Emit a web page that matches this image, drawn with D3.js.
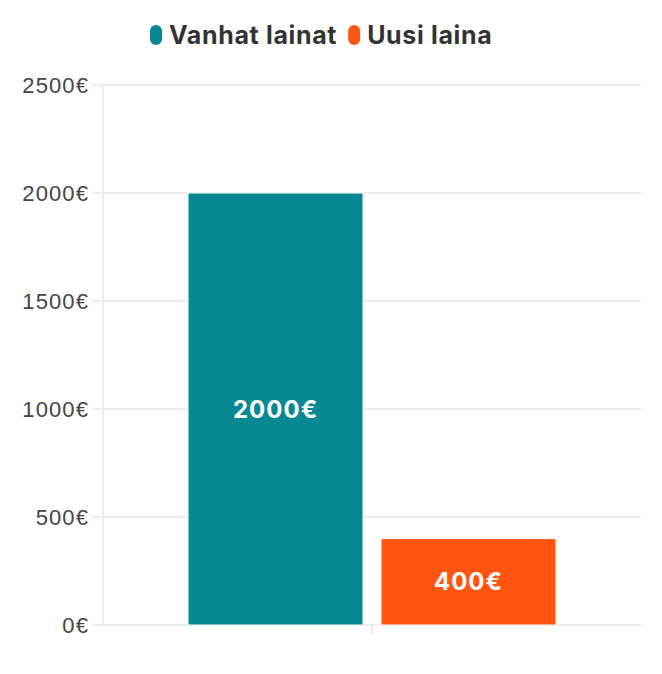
<!DOCTYPE html>
<html lang="fi">
<head>
    <meta charset="UTF-8">
    <title>Vanhat lainat vs Uusi laina</title>
    <script src="https://d3js.org/d3.v7.min.js"></script>
    <style>
        body { margin: 0; background: #fff; }
        svg { font-family: Inter, "Libre Franklin", sans-serif; }
        .tick text { fill: #444; font-size: 22px; letter-spacing: 1.1px; }
        .grid line { stroke: #ececec; stroke-width: 2; }
        .legend text { fill: #333; font-size: 25px; font-weight: 700; letter-spacing: 0.65px; }
        .bar-label { fill: #fff; font-size: 24px; font-weight: 700; letter-spacing: 1px; }
    </style>
</head>
<body>
<div id="chart"></div>
<script>
    // data
    const categories = [''];
    const seriesNames = ['Vanhat lainat', 'Uusi laina'];
    const seriesValues = [2000, 400];
    const seriesColors = ['#078893', '#FE5611'];
    const yTicks = [0, 500, 1000, 1500, 2000, 2500];

    const width = 662, height = 674;
    const margin = { top: 85, right: 21, bottom: 49, left: 103 };

    const svg = d3.select('#chart').append('svg')
        .attr('width', width)
        .attr('height', height);

    const x0 = d3.scaleBand()
        .domain(categories)
        .range([margin.left, width - margin.right])
        .paddingOuter(0.231);

    const x1 = d3.scaleBand()
        .domain(seriesNames)
        .range([0, x0.bandwidth()])
        .paddingInner(0.093);

    const y = d3.scaleLinear()
        .domain([0, 2500])
        .range([height - margin.bottom, margin.top]);

    // gridlines
    svg.append('g')
        .attr('class', 'grid')
        .selectAll('line')
        .data(yTicks)
        .join('line')
        .attr('x1', margin.left - 10)
        .attr('x2', width - margin.right)
        .attr('y1', d => y(d))
        .attr('y2', d => y(d));

    // left axis line
    svg.append('line')
        .attr('x1', margin.left).attr('x2', margin.left)
        .attr('y1', margin.top).attr('y2', height - margin.bottom)
        .attr('stroke', '#ececec').attr('stroke-width', 2);

    // bottom tick
    svg.append('line')
        .attr('x1', x0('') + x0.bandwidth() / 2)
        .attr('x2', x0('') + x0.bandwidth() / 2)
        .attr('y1', height - margin.bottom)
        .attr('y2', height - margin.bottom + 10)
        .attr('stroke', '#ececec').attr('stroke-width', 2);

    // y axis labels
    const yAxis = d3.axisLeft(y)
        .tickValues(yTicks)
        .tickFormat(d => d + '€')
        .tickSize(0)
        .tickPadding(14);

    svg.append('g')
        .attr('transform', `translate(${margin.left},0)`)
        .call(yAxis)
        .call(g => g.select('.domain').remove())
        .selectAll('text')
        .attr('dy', '0.35em');

    // bars
    const barData = seriesNames.map((name, i) => ({ name, value: seriesValues[i], color: seriesColors[i] }));

    const groups = svg.append('g')
        .attr('transform', `translate(${x0('')},0)`);

    groups.selectAll('rect')
        .data(barData)
        .join('rect')
        .attr('x', d => x1(d.name))
        .attr('width', x1.bandwidth())
        .attr('y', d => y(d.value))
        .attr('height', d => y(0) - y(d.value))
        .attr('fill', d => d.color)
        .attr('stroke', '#fff')
        .attr('stroke-width', 1);

    groups.selectAll('.bar-label')
        .data(barData)
        .join('text')
        .attr('class', 'bar-label')
        .attr('x', d => x1(d.name) + x1.bandwidth() / 2)
        .attr('y', d => (y(d.value) + y(0)) / 2)
        .attr('text-anchor', 'middle')
        .attr('dy', '0.36em')
        .text(d => d.value + '€');

    // legend
    const legend = svg.append('g').attr('class', 'legend');
    let lx = 150;
    barData.forEach(d => {
        legend.append('rect')
            .attr('x', lx).attr('y', 25)
            .attr('width', 12).attr('height', 20)
            .attr('rx', 6)
            .attr('fill', d.color);
        const t = legend.append('text')
            .attr('x', lx + 19).attr('y', 44)
            .text(d.name);
        lx += 19 + t.node().getComputedTextLength() + 11;
    });
</script>
</body>
</html>
